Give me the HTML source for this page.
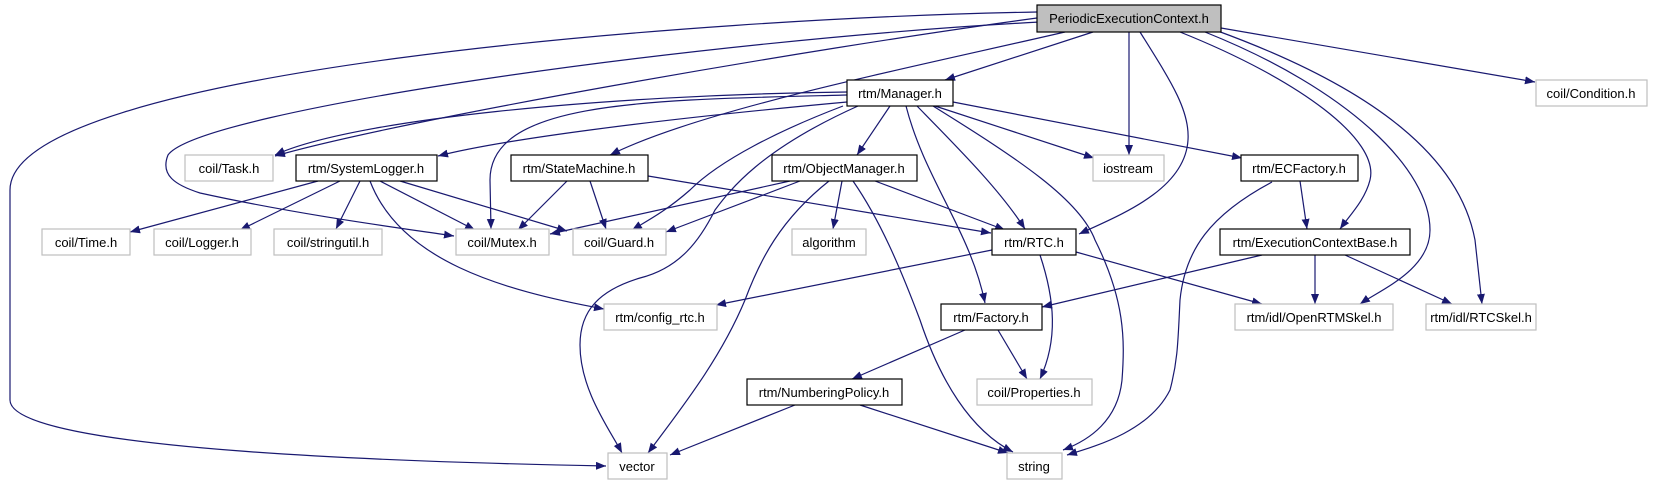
<!DOCTYPE html>
<html><head><meta charset="utf-8"><style>
html,body{margin:0;padding:0;background:#fff;}
svg{display:block;}
text{font-family:"Liberation Sans",sans-serif;font-size:13px;fill:#000;}
</style></head><body>
<svg width="1653" height="485" viewBox="0 0 1653 485" xmlns="http://www.w3.org/2000/svg">
<defs>
<marker id="a" markerUnits="userSpaceOnUse" markerWidth="11" markerHeight="9" refX="10" refY="4" orient="auto">
<path d="M0,0 L10,4 L0,8 z" fill="#191970"/>
</marker>
</defs>
<g fill="none" stroke="#191970" stroke-width="1.2" marker-end="url(#a)">
<!-- Periodic -->
<path d="M1037,12 C700,18 10,70 10,190 L10,400 C10,450 400,462 606,466"/>
<path d="M1037,18 C800,50 400,120 275,156"/>
<path d="M1040,22 C700,40 200,110 168,155 C160,175 175,185 200,193 C300,215 400,228 454,236"/>
<path d="M1065,32 C900,70 700,110 610,155"/>
<path d="M1093,32 L945,80"/>
<path d="M1129,32 L1129,155"/>
<path d="M1140,32 C1170,80 1190,110 1188,140 C1185,190 1120,215 1079,234"/>
<path d="M1180,32 C1300,80 1380,140 1370,180 C1365,200 1350,215 1340,229"/>
<path d="M1205,32 C1350,90 1430,170 1430,230 C1430,270 1380,290 1360,304"/>
<path d="M1215,30 C1380,90 1460,160 1475,240 L1482,304"/>
<path d="M1221,28 L1535,82"/>
<!-- Manager -->
<path d="M847,92 C600,95 350,120 275,155"/>
<path d="M847,102 C650,120 500,140 438,156"/>
<path d="M847,95 C650,100 490,100 490,180 L491,229"/>
<path d="M843,106 C780,130 720,160 690,190 C665,212 645,222 632,230"/>
<path d="M858,106 C760,150 730,190 715,210 C700,240 680,268 640,278 C600,290 580,310 580,345 C580,390 610,430 622,453"/>
<path d="M890,106 L857,155"/>
<path d="M906,106 C925,180 970,230 985,303"/>
<path d="M917,106 C960,150 1000,190 1025,229"/>
<path d="M933,106 C1020,160 1080,200 1095,240 C1125,300 1125,340 1122,380 C1118,420 1090,440 1063,450"/>
<path d="M935,106 L1094,158"/>
<path d="M953,102 L1242,158"/>
<!-- SystemLogger -->
<path d="M318,181 L130,232"/>
<path d="M340,181 L240,230"/>
<path d="M360,181 L336,229"/>
<path d="M370,181 C400,260 500,290 604,309"/>
<path d="M380,181 L475,230"/>
<path d="M400,181 L567,231"/>
<!-- StateMachine -->
<path d="M567,181 L518,230"/>
<path d="M590,181 L606,229"/>
<path d="M648,176 L991,233"/>
<!-- ObjectManager -->
<path d="M790,181 L550,234"/>
<path d="M800,181 L666,232"/>
<path d="M842,181 L833,229"/>
<path d="M875,181 L1005,230"/>
<path d="M829,181 C780,220 760,260 745,300 C720,360 680,410 648,453"/>
<path d="M853,181 C880,220 900,267 920,320 C940,380 970,430 1013,452"/>
<!-- ECFactory -->
<path d="M1300,181 L1307,229"/>
<path d="M1272,182 C1210,215 1185,250 1180,300 C1178,340 1178,360 1170,390 C1150,430 1100,445 1067,455"/>
<!-- RTC -->
<path d="M992,250 L716,305"/>
<path d="M1040,255 C1055,300 1058,340 1040,379"/>
<path d="M1076,252 L1262,304"/>
<!-- ECBase -->
<path d="M1262,255 L1042,307"/>
<path d="M1315,255 L1315,304"/>
<path d="M1345,255 L1452,304"/>
<!-- Factory -->
<path d="M965,330 L852,379"/>
<path d="M998,330 L1027,379"/>
<!-- NumberingPolicy -->
<path d="M795,405 L670,455"/>
<path d="M860,405 L1008,453"/>
</g>
<g stroke-width="1.2">
<rect x="1037" y="5" width="184" height="27" fill="#bfbfbf" stroke="#000"/>
<rect x="847" y="80" width="106" height="26" fill="#fff" stroke="#000"/>
<rect x="1536" y="80" width="111" height="26" fill="#fff" stroke="#bfbfbf"/>
<rect x="185" y="155" width="88" height="26" fill="#fff" stroke="#bfbfbf"/>
<rect x="296" y="155" width="141" height="26" fill="#fff" stroke="#000"/>
<rect x="511" y="155" width="137" height="26" fill="#fff" stroke="#000"/>
<rect x="772" y="155" width="145" height="26" fill="#fff" stroke="#000"/>
<rect x="1093" y="155" width="71" height="26" fill="#fff" stroke="#bfbfbf"/>
<rect x="1241" y="155" width="117" height="26" fill="#fff" stroke="#000"/>
<rect x="42" y="229" width="88" height="26" fill="#fff" stroke="#bfbfbf"/>
<rect x="154" y="229" width="97" height="26" fill="#fff" stroke="#bfbfbf"/>
<rect x="274" y="229" width="108" height="26" fill="#fff" stroke="#bfbfbf"/>
<rect x="456" y="229" width="93" height="26" fill="#fff" stroke="#bfbfbf"/>
<rect x="573" y="229" width="93" height="26" fill="#fff" stroke="#bfbfbf"/>
<rect x="792" y="229" width="74" height="26" fill="#fff" stroke="#bfbfbf"/>
<rect x="992" y="229" width="84" height="26" fill="#fff" stroke="#000"/>
<rect x="1220" y="229" width="190" height="26" fill="#fff" stroke="#000"/>
<rect x="604" y="304" width="113" height="26" fill="#fff" stroke="#bfbfbf"/>
<rect x="941" y="304" width="101" height="26" fill="#fff" stroke="#000"/>
<rect x="1235" y="304" width="158" height="26" fill="#fff" stroke="#bfbfbf"/>
<rect x="1426" y="304" width="110" height="26" fill="#fff" stroke="#bfbfbf"/>
<rect x="747" y="379" width="155" height="26" fill="#fff" stroke="#000"/>
<rect x="977" y="379" width="115" height="26" fill="#fff" stroke="#bfbfbf"/>
<rect x="608" y="453" width="59" height="26" fill="#fff" stroke="#bfbfbf"/>
<rect x="1007" y="453" width="55" height="26" fill="#fff" stroke="#bfbfbf"/>
</g>
<g text-anchor="middle">
<text x="1129" y="23">PeriodicExecutionContext.h</text>
<text x="900" y="98">rtm/Manager.h</text>
<text x="1591" y="98">coil/Condition.h</text>
<text x="229" y="173">coil/Task.h</text>
<text x="366" y="173">rtm/SystemLogger.h</text>
<text x="579" y="173">rtm/StateMachine.h</text>
<text x="844" y="173">rtm/ObjectManager.h</text>
<text x="1128" y="173">iostream</text>
<text x="1299" y="173">rtm/ECFactory.h</text>
<text x="86" y="247">coil/Time.h</text>
<text x="202" y="247">coil/Logger.h</text>
<text x="328" y="247">coil/stringutil.h</text>
<text x="502" y="247">coil/Mutex.h</text>
<text x="619" y="247">coil/Guard.h</text>
<text x="829" y="247">algorithm</text>
<text x="1034" y="247">rtm/RTC.h</text>
<text x="1315" y="247">rtm/ExecutionContextBase.h</text>
<text x="660" y="322">rtm/config_rtc.h</text>
<text x="991" y="322">rtm/Factory.h</text>
<text x="1314" y="322">rtm/idl/OpenRTMSkel.h</text>
<text x="1481" y="322">rtm/idl/RTCSkel.h</text>
<text x="824" y="397">rtm/NumberingPolicy.h</text>
<text x="1034" y="397">coil/Properties.h</text>
<text x="637" y="471">vector</text>
<text x="1034" y="471">string</text>
</g>
</svg>
</body></html>
